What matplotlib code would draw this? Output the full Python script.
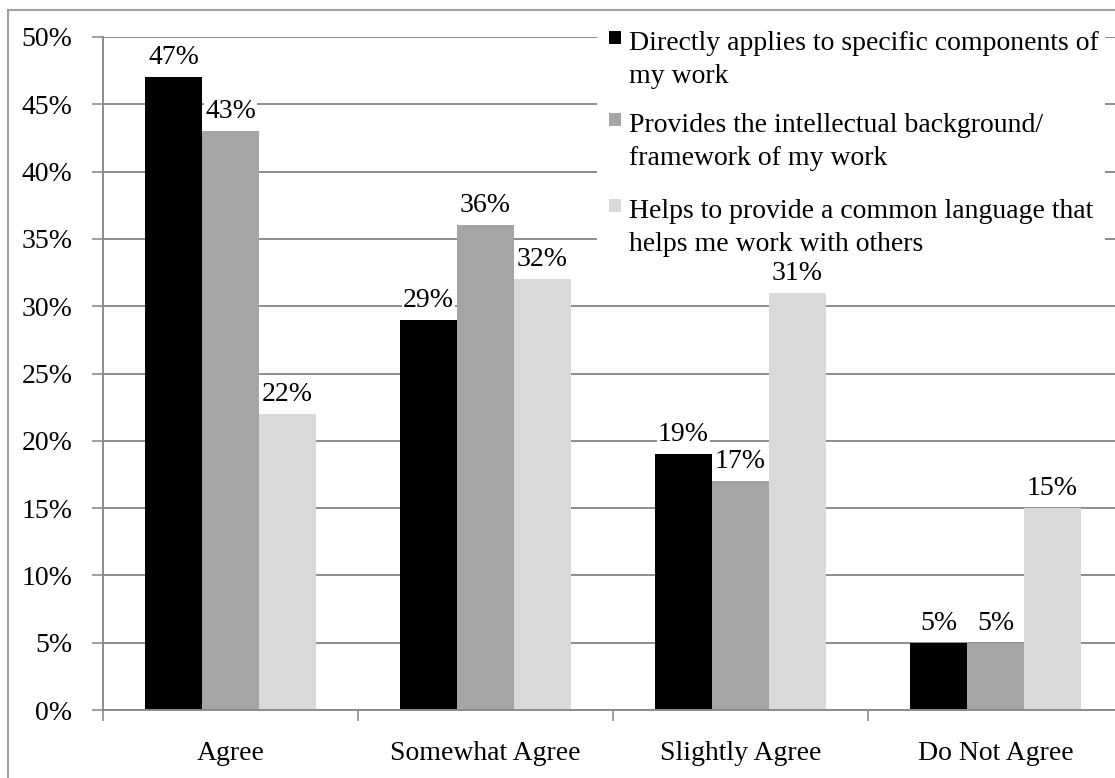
import matplotlib.pyplot as plt
from matplotlib.patches import Rectangle
from matplotlib.ticker import FixedLocator, FuncFormatter
import numpy as np

categories = ["Agree", "Somewhat Agree", "Slightly Agree", "Do Not Agree"]
series_names = [
    "Directly applies to specific components of\nmy work",
    "Provides the intellectual background/\nframework of my work",
    "Helps to provide a common language that\nhelps me work with others",
]
applies = [47, 29, 19, 5]
background = [43, 36, 17, 5]
language = [22, 32, 31, 15]
colors = ["#000000", "#a5a5a5", "#d9d9d9"]

plt.rcParams["font.family"] = ["Liberation Serif", "DejaVu Serif"]
grid_col = "#8c8c8c"
fs = 20

W, H = 1115, 778
fig = plt.figure(figsize=(W / 100, H / 100), dpi=100)
ax = fig.add_axes([103 / W, 68 / H, 1020 / W, 673 / H])

x = np.arange(len(categories))
w = 0.2235
for j, vals in enumerate([applies, background, language]):
    pos = x + (j - 1) * w
    ax.bar(pos, vals, width=w, color=colors[j], zorder=2)
    for px, v in zip(pos, vals):
        ax.annotate(f"{v}%", (px, v), xytext=(0, 5), textcoords="offset points",
                    ha="center", va="bottom", fontsize=fs, zorder=4,
                    bbox=dict(boxstyle="square,pad=0.05", fc="white", ec="none"))

ax.set_xlim(-0.5, 3.5)
ax.set_ylim(0, 50)
ax.set_yticks(np.arange(0, 51, 5))
ax.yaxis.set_major_formatter(FuncFormatter(lambda v, p: f"{v:.0f}%"))
ax.yaxis.grid(True, color=grid_col, lw=1.4, zorder=0)
ax.tick_params(axis="y", length=8, width=1.2, color=grid_col, pad=14, labelsize=fs)

# category boundaries get the ticks, names sit on the minor ticks
ax.xaxis.set_major_locator(FixedLocator([-0.5, 0.5, 1.5, 2.5, 3.5]))
ax.xaxis.set_minor_locator(FixedLocator(x))
ax.set_xticklabels([])
ax.set_xticklabels(categories, minor=True)
ax.tick_params(axis="x", which="major", length=8, width=1.2, color=grid_col)
ax.tick_params(axis="x", which="minor", length=0, pad=22, labelsize=fs)

for s in ["top", "right"]:
    ax.spines[s].set_visible(False)
for s in ["left", "bottom"]:
    ax.spines[s].set_color(grid_col)
    ax.spines[s].set_linewidth(1.4)

# legend with the swatch next to the first line of each label
fig.patches.append(Rectangle((597 / W, 1 - 262 / H), 508 / W, 242 / H,
                             transform=fig.transFigure, fc="white", ec="none", zorder=3))
baselines = [50, 132, 218]
for name, col, by in zip(series_names, colors, baselines):
    fig.patches.append(Rectangle((609 / W, 1 - (by - 6) / H), 12 / W, 13 / H,
                                 transform=fig.transFigure, fc=col, ec="none", zorder=4))
    for k, line in enumerate(name.split("\n")):
        fig.text(629 / W, 1 - (by + 33 * k) / H, line, ha="left", va="baseline",
                 fontsize=fs, zorder=5)

# outer frame of the chart
fig.patches.append(Rectangle((8 / W, -0.1), 1.1, 1.1 - 10 / H, transform=fig.transFigure,
                             fill=False, ec="#a0a0a0", lw=1.5, zorder=1))

fig.savefig("out.png", dpi=100)
